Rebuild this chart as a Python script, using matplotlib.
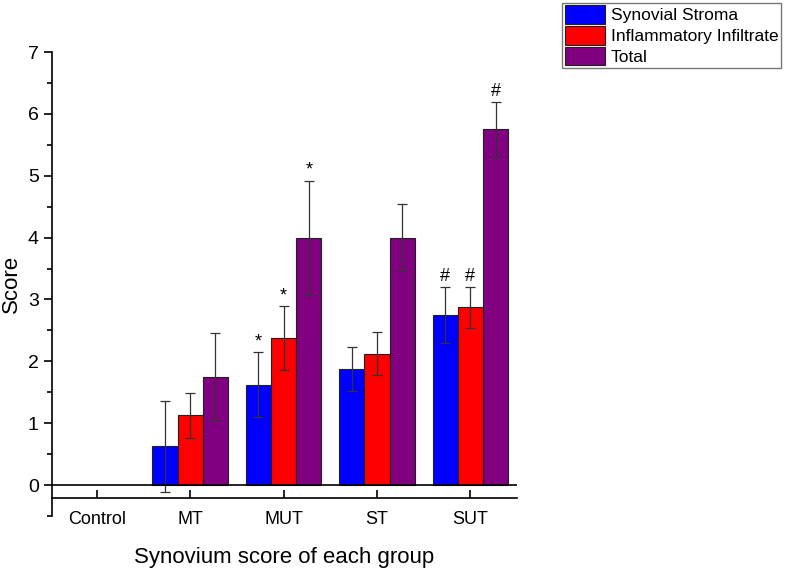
import numpy as np
import matplotlib
matplotlib.use('Agg')
import matplotlib.pyplot as plt
from matplotlib.patches import Patch

plt.rcParams['font.family'] = ['Liberation Sans', 'DejaVu Sans']

# Data
groups = ['Control', 'MT', 'MUT', 'ST', 'SUT']
series = ['Synovial Stroma', 'Inflammatory Infiltrate', 'Total']
colors = ['#0000ff', '#ff0000', '#800080']
stroma = [0, 0.625, 1.625, 1.875, 2.75]
infiltrate = [0, 1.125, 2.375, 2.125, 2.875]
total = [0, 1.75, 4.0, 4.0, 5.75]
stroma_err = [0, 0.74, 0.52, 0.36, 0.45]
infiltrate_err = [0, 0.36, 0.52, 0.35, 0.33]
total_err = [0, 0.70, 0.92, 0.54, 0.45]
stroma_mark = ['', '', '*', '', '#']
infiltrate_mark = ['', '', '*', '', '#']
total_mark = ['', '', '*', '', '#']

values = [stroma, infiltrate, total]
errors = [stroma_err, infiltrate_err, total_err]
marks = [stroma_mark, infiltrate_mark, total_mark]

fig = plt.figure(figsize=(7.87, 5.72), dpi=100)
ax = fig.add_axes([0.066, 0.098, 0.591, 0.811])

x = np.arange(len(groups))
width = 0.27
for k in range(3):
    xs = x + (k - 1) * width
    v = np.array(values[k])
    e = np.array(errors[k])
    show = v > 0
    ax.bar(xs[show], v[show], width=width, color=colors[k], edgecolor='#202020', linewidth=0.8, zorder=2)
    ax.errorbar(xs[show], v[show], yerr=e[show], fmt='none', ecolor='#333333', elinewidth=0.9, capsize=3.5, capthick=0.9, zorder=3)
    for i in range(len(groups)):
        if marks[k][i]:
            ax.text(xs[i], v[i] + e[i] + 0.03, marks[k][i], ha='center', va='bottom', fontsize=13)

ax.axhline(0, color='black', linewidth=1.2, zorder=4)
ax.set_xlim(-0.48, 4.5)
ax.set_ylim(-0.5, 7)
ax.spines['top'].set_visible(False)
ax.spines['right'].set_visible(False)
ax.spines['left'].set_linewidth(1.2)
ax.spines['bottom'].set_linewidth(1.2)
ax.spines['bottom'].set_position(('data', -0.21))
ax.set_yticks(np.arange(0, 8, 1))
ax.set_yticks(np.arange(-0.5, 7, 1), minor=True)
ax.tick_params(axis='y', which='major', direction='out', length=6, width=1.2, labelsize=14)
ax.tick_params(axis='y', which='minor', direction='out', length=3.5, width=1.2)
ax.set_xticks(x)
ax.set_xticklabels(groups)
ax.tick_params(axis='x', direction='in', length=6, width=1.2, labelsize=13, pad=9)
ax.set_ylabel('Score', fontsize=16, labelpad=4)
ax.set_xlabel('Synovium score of each group', fontsize=16, labelpad=14)

handles = [Patch(facecolor=c, edgecolor='#202020', linewidth=0.8) for c in colors]
fig.legend(handles, series, loc='upper left', bbox_to_anchor=(0.711, 1.0), fontsize=12.5,
           frameon=True, fancybox=False, edgecolor='#555555', borderpad=0.15, labelspacing=0.1,
           handlelength=2.3, handleheight=1.3, handletextpad=0.35, borderaxespad=0.15)

plt.savefig('out.png', dpi=100)
plt.close('all')
